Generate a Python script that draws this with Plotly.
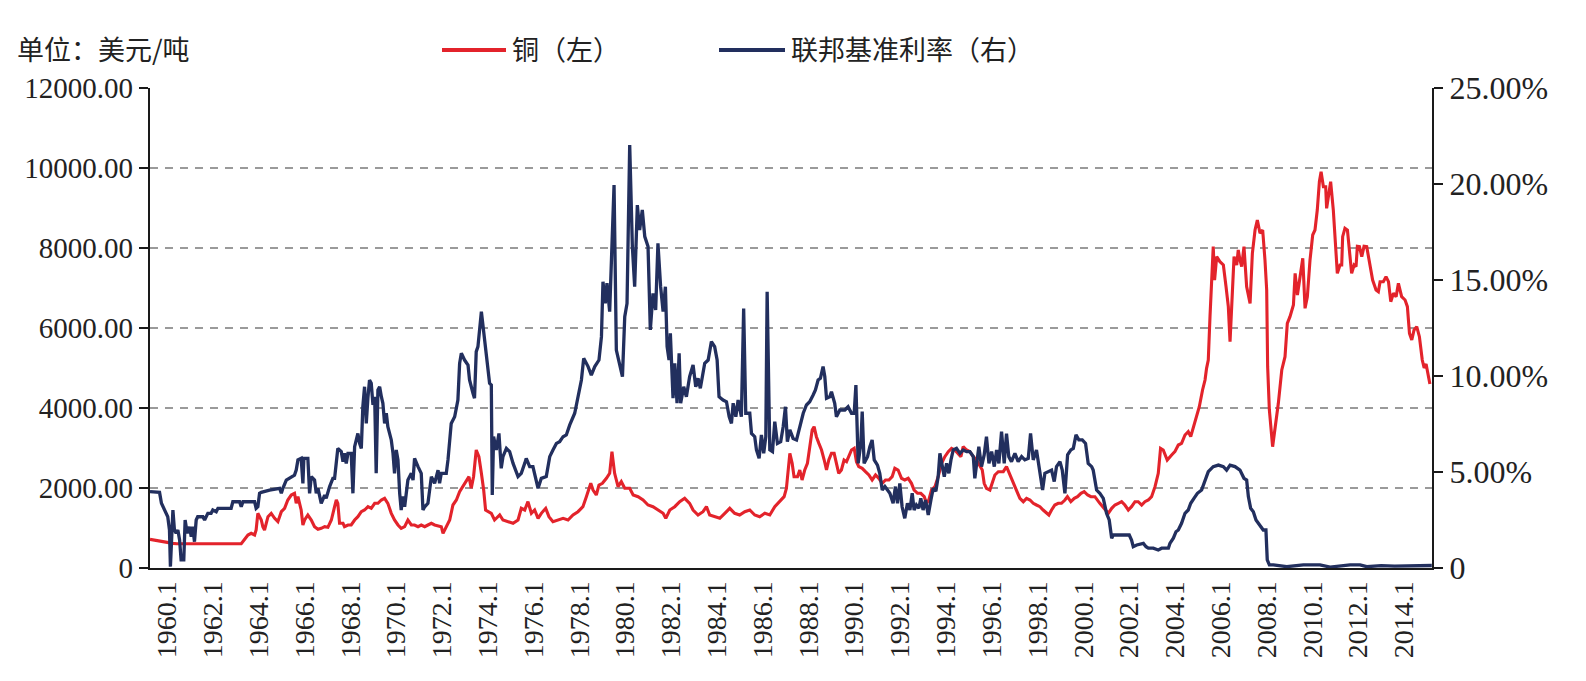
import plotly.graph_objects as go

# ---------------- data (month offset from 1959.4, value) ----------------
cu_month = [0, 4, 8, 12, 14, 47.8, 51.3, 53, 54.8, 55.6, 56.5, 57.4, 58.3, 59.1, 60, 61.8, 63.5, 65.3, 67, 68.8,
            70.5, 72.2, 74, 75.7, 76.6, 77.5, 78.4, 79.2, 80.1, 81, 82.7, 84.5, 86.2, 88, 89.7, 91.5, 93.2, 95,
            96.7, 97.6, 98.4, 99.3, 101.1, 101.9, 103.7, 105.4, 107.2, 108.9, 110.7, 112.4, 114.2, 115.9, 117.7,
            119.4, 121.2, 122.9, 124.6, 126.4, 128.1, 129.9, 131.6, 133.4, 135.1, 136.9, 138.6, 140.4, 142.1,
            143.9, 145.6, 147.4, 149.1, 150.9, 152.6, 153.5, 155.2, 157, 158.7, 160.5,
            162.2, 163.9, 165.7, 167.1, 168.3, 169.5, 170.9, 172.3, 173.6, 174.8, 175.8, 177, 178.8, 180.5, 182.3,
            183.2, 184.9, 187.5, 190.2, 192.8, 194.5, 196.3, 198, 199.8, 201.5, 203.3, 205, 207.3, 209, 211.1,
            213.7, 216.4, 219, 221.6, 224.2, 226.8, 228.6, 230.9, 232.1, 233.8, 235.2, 237, 239.1, 240.8, 242,
            243.4, 245.2, 246.9, 248.7, 251.3, 253.1, 255.7, 258.3, 260.9, 263.5, 266.1, 268.8, 270.2, 272.3,
            274.9, 277.5, 280.1, 282.7, 284.5, 287.1, 289.7, 291.5, 293.2, 295.8, 298.5, 301.1, 303.7, 306.3,
            308.9, 311.6, 314.2, 316.8, 319.4, 322.1, 324.7, 327.3,
            330.4, 332.2, 333.4, 334.3, 335.2, 336.4, 337.4, 339.2, 340.4, 341.6, 343, 344.4, 345.6, 346.9, 347.9,
            349.1, 350.4, 351.8, 353.2, 354.4, 355.6, 357, 358.4, 359.6, 360.8, 362.2, 363.6, 364.9, 366.1, 367.5,
            368.9, 370.1, 371.3, 373.1, 374.8, 376.6, 378.3, 380.1, 381.8, 383.6, 385.3, 387.1, 388.8, 390.2,
            391.9, 393.7, 395.4, 397.2, 398.9, 400.3, 402.1, 403.8, 405.6, 406.8, 408, 409.4, 411.2, 412.9, 414.7,
            416.4, 418.2, 419.9, 421.6, 423.4, 424.8, 426, 427.8, 429.5, 431.3, 433, 434.7, 436, 437, 438.2, 440,
            441.2, 442.6, 444.4, 447, 448.7, 450.5, 452.2, 454, 455.7, 457.5, 459.2, 461, 462.7, 464.4, 466.2,
            467.9, 469.7, 470.9, 472.3, 474, 475.8, 477.5, 479.3, 480.6, 482.4, 484.2, 485.9, 487.7, 489.4, 491.2,
            492.9,
            495, 497.6, 500.3, 502, 503.8, 505.5, 507.3, 509, 510.7, 512.5, 514.2, 516, 517.7, 519.5, 521.2, 523,
            524.7, 526.5, 528.2, 529.4, 530.8, 532.9, 535.2, 536.9, 538.7, 540.4, 542.2, 543.9, 545.2, 546.6,
            548.3, 549.7, 551.4, 552.7, 553.5, 554.4, 555.3, 556.2, 557, 557.7, 558.8, 560.5, 562.3, 563.7, 564.9,
            565.8, 566.7, 567.9, 569.3, 570.1, 571, 571.9, 573.1, 574.5, 576.3, 577.5, 578.9, 580.1, 581.5, 582.9,
            584.1, 585, 585.5, 586.4, 588.1, 589.4, 591.1, 592.9, 594.6, 595.8, 597.2, 599, 599.9, 601.1, 602.1,
            603.9, 605.1, 606.3, 607.7, 609.1, 610.3, 611.5, 612.6, 613.5, 614.7, 615.9, 616.4, 617.3, 618.5,
            619.9, 621.2, 622, 623.4, 624.3, 624.8, 626, 627.3, 628.3, 629.5, 630.8, 631.8, 632.5, 633.6, 634.8,
            636, 637.4, 638.8, 640.5, 642.3, 643.5, 644.4, 646.1, 647.5, 648.8, 650, 651.4, 652.8, 654, 655.7,
            657.5, 658.7, 659.8, 661, 662.2, 663.6, 665, 666.5, 667.5, 668.5, 669.5, 670.5]
cu_price = [717, 680, 640, 615, 605, 610, 825, 867, 825, 950, 1367, 1283, 1200, 1033, 950, 1283, 1367, 1242, 1158,
            1408, 1492, 1700, 1825, 1867, 1617, 1783, 1617, 1450, 1075, 1200, 1325, 1200, 1033, 967, 992, 1033,
            1017, 1200, 1533, 1700, 1617, 1117, 1117, 1033, 1075, 1075, 1200, 1283, 1408, 1450, 1533, 1492, 1617,
            1617, 1700, 1742, 1617, 1367, 1200, 1075, 992, 1033, 1200, 1075, 1075, 1033, 1075, 1033, 1075, 1117,
            1075, 1050, 1033, 867, 1033, 1200, 1575, 1700,
            1908, 2033, 2158, 2283, 1992, 2283, 2950, 2783, 2367, 1950, 1450, 1408, 1367, 1200, 1283, 1325, 1200,
            1158, 1117, 1200, 1492, 1450, 1658, 1367, 1450, 1242, 1367, 1492, 1283, 1158, 1200, 1242, 1200, 1325,
            1408, 1533, 1783, 2117, 1950, 1825, 2075, 2117, 2242, 2367, 2908, 2367, 2033, 2158, 1992, 1992, 1825,
            1783, 1700, 1575, 1533, 1450, 1367, 1242, 1450, 1533, 1658, 1742, 1617, 1450, 1325, 1408, 1533, 1325,
            1283, 1242, 1367, 1492, 1367, 1325, 1408, 1450, 1325, 1283, 1367, 1325, 1533,
            1700, 1783, 1992, 2450, 2867, 2617, 2283, 2283, 2450, 2200, 2450, 2617, 3033, 3450, 3533, 3283, 3117,
            2950, 2700, 2450, 2700, 2867, 2867, 2617, 2367, 2450, 2700, 2658, 2783, 2950, 2992, 2658, 2533, 2492,
            2408, 2325, 2200, 2325, 2242, 2117, 2200, 2200, 2283, 2492, 2450, 2242, 2200, 2242, 2117, 1950, 1867,
            1867, 1783, 1617, 1700, 1950, 2033, 2283, 2617, 2783, 2908, 2992, 2950, 2867, 2783, 3033, 2950, 2908,
            2783, 2700, 2575, 2450, 2117, 1992, 1950, 2117, 2325, 2408, 2408, 2533, 2325, 2117, 1908, 1742, 1658,
            1742, 1700, 1617, 1575, 1533, 1450, 1367, 1325, 1450, 1575, 1617, 1617, 1700, 1783, 1658, 1742, 1783,
            1867, 1908, 1825, 1783,
            1783, 1617, 1450, 1367, 1492, 1575, 1617, 1658, 1575, 1450, 1533, 1658, 1658, 1575, 1658, 1700, 1783,
            2033, 2367, 2992, 2950, 2700, 2825, 2908, 3075, 3117, 3325, 3408, 3283, 3533, 3783, 4033, 4450, 4700,
            4992, 5200, 6283, 7283, 8033, 7200, 7783, 7658, 7575, 7033, 6533, 5658, 6450, 7783, 7575, 7950, 7700,
            7533, 8033, 7033, 6617, 7867, 8450, 8700, 8367, 8450, 7700, 6950, 5033, 3950, 3033, 3450, 4117, 4950,
            5283, 6117, 6283, 6575, 7367, 6825, 7117, 7742, 6492, 6783, 7700, 8325, 8450, 8950, 9658, 9908, 9533,
            9533, 8992, 9283, 9658, 8950, 7950, 7367, 7575, 7575, 8283, 8492, 8450, 8033, 7367, 7575, 7533, 8042,
            8033, 7783, 8042, 8033, 7617, 7200, 6950, 6908, 7158, 7158, 7283, 7158, 6658, 6867, 6783, 7117, 6783,
            6700, 6533, 5867, 5700, 5950, 6033, 5783, 5200, 5000, 5100, 4800, 4600]

ff_month = [0, 5, 6, 7.6, 9.3, 10.2, 10.7, 12, 12.8, 13.7, 14.6, 15.5, 16.3, 17.7, 18.4, 19.5, 20.7, 21.6, 22.4,
            23.3, 24.2, 25, 27.7, 28.6, 30.3, 32, 32.9, 34.7, 35.6, 42.5, 43.4, 46.9, 47.8, 48.7, 54.8, 55.6, 56.5,
            57.4, 58.3, 62.6, 67.9, 68.8, 69.6, 71.4, 74, 75.7, 76.6, 77.5, 79.2, 80.1, 80.6, 82.7, 83.6, 84.5,
            86.2, 87.1, 88, 89.7, 91.5, 92.3, 94.1, 95.8, 96.7, 98.4, 100.2, 101.1, 101.9, 102.8, 103.7, 105.4,
            106.3, 107.2, 108.9, 109.8, 110.7, 111.5, 112.4, 113.3, 114.2, 115, 115.9, 116.8, 117.7, 118.5, 119.4,
            120.3, 121.2, 122, 122.9, 123.8, 124.6, 126.4, 127.3, 128.1, 129, 129.9, 130.8, 131.6, 132.5, 133.4,
            135.1, 136.9, 137.8, 138.6, 140.4, 142.1, 143, 143.9, 145.6, 147.4, 149.1, 150, 150.9, 151.7, 152.6,
            155.2, 156.1, 157.8, 159.6, 161.3,
            162.2, 163.1, 164.8, 166.6, 167.4, 169.2, 170, 170.9, 171.8, 173.6, 174.8, 176.2, 177.9, 178.8, 179.3,
            180, 181.4, 182.8, 184, 184.9, 186.7, 188.4, 190.2, 192.8, 194.5, 196.3, 197.1, 198.9, 200.6, 203.3,
            205, 207.6, 209.4, 211.1, 212.9, 214.6, 216.4, 218.1, 219.9, 222.5, 224.2, 226, 227.2, 229.5, 231.2,
            233, 235.2, 236.5, 237.3, 238.5, 239.4, 240.8, 243.1, 244.3, 247.5, 248.7, 249.9, 251.3, 252.7, 253.9,
            255.3, 256.5, 257.9, 259.2, 260.9, 262.1, 263.5, 264.9, 266.1, 267.5, 268.8, 270, 270.9, 271.9, 272.6,
            274, 274.9, 276.1, 277.2, 278, 279.6, 281, 282.7, 284.5, 285.9, 287.1, 288.3, 290.6, 292.4, 294.1,
            295.8, 297.1, 298.1, 300.2, 302, 303.4, 304.6, 305.5, 306.9, 308.1, 309.8, 311, 312.1, 314.2, 315.1,
            316.8, 317.7, 319.1, 320.3, 321.5, 322.6, 323.3, 324.7, 326.1, 327.3,
            328.7, 330.4, 331.7, 332.9, 333.9, 335.2, 336.9, 338.7, 340.4, 342.2, 343.9, 345.6, 347.4, 348.6, 350,
            351.2, 352.6, 353.5, 354.4, 356.1, 357, 358.7, 359.6, 361.4, 364, 365.7, 367.5, 368.9, 369.8, 371,
            372.4, 373.1, 374.1, 375.9, 377.1, 378.3, 379.4, 381.1, 382.3, 383.6, 385, 386.3, 387.6, 389.3, 390.5,
            391.6, 392.8, 394, 395.4, 396.8, 398.1, 399.3, 400.3, 401.5, 402.8, 403.8, 405, 406.3, 407.7, 409.1,
            410.3, 411.7, 412.9, 413.8, 414.7, 416.1, 417.3, 418.5, 419.6, 420.8, 422.5, 424.3, 426, 427.8, 429.5,
            431.3, 432.1, 433, 434.2, 435.6, 437, 438.2, 439.5, 440.9, 442.3, 443.5, 444.7, 446.1, 447.5, 448.7,
            449.9, 451.3, 453.1, 454.8, 456.6, 458.3, 460.1, 461.3, 462.7, 464.4, 466.2, 467.6, 468.8, 470.6,
            472.3, 473.7, 474.9, 476.7, 477.9, 479.3, 480.7, 482.4, 483.7, 485.1, 486.6, 488.4, 490.1, 491.5,
            493.3,
            494.1, 495.9, 497.6, 499.4, 501.1, 502.5, 503.8, 504.6, 508.1, 513, 514.2, 515.1, 516.9, 520.4, 521.8,
            523, 525.6, 528.2, 530, 533.5, 534.3, 536.1, 537.5, 538.7, 540.4, 542.2, 543.9, 545.2, 546.9, 548.7,
            550.9, 552.7, 554.4, 557, 559.7, 562.3, 564, 565.8, 568.4, 571, 573.1, 574.5, 575.4, 576.6, 578, 579.4,
            580.6, 581.8, 583.2, 584.6, 585.3, 586.4, 588.5, 595.5, 604.2, 612.9, 618.2, 628.7, 633.9, 637.4, 645,
            652, 660, 666, 671.5]
ff_rate = [3.98, 3.94, 3.37, 3.02, 2.67, 1.98, 0.07, 3.02, 1.98, 1.81, 1.98, 1.46, 0.42, 0.42, 2.5, 1.81, 2.15,
           1.63, 2.15, 1.37, 2.5, 2.67, 2.67, 2.5, 2.85, 2.85, 3.02, 2.93, 3.11, 3.11, 3.45, 3.45, 3.19, 3.45, 3.45,
           3.11, 3.19, 3.89, 3.94, 4.06, 4.15, 3.89, 4.15, 4.58, 4.72, 4.84, 5.1, 5.63, 5.71, 4.41, 5.71, 5.71,
           3.89, 4.76, 4.58, 3.89, 4.15, 3.37, 3.8, 3.63, 4.24, 4.67, 4.67, 6.23, 6.06, 5.54, 5.97, 5.45, 5.97,
           5.97, 3.89, 6.32, 7.01, 6.49, 6.23, 8.4, 9.44, 7.53, 8.92, 9.79, 9.62, 8.49, 8.92, 4.93, 9.27, 9.44,
           8.92, 8.58, 7.53, 8.06, 7.36, 6.67, 5.97, 4.93, 6.15, 5.63, 3.89, 3.02, 3.72, 3.19, 4.58, 4.93, 4.58,
           5.71, 5.28, 4.93, 3.02, 3.19, 3.37, 4.76, 4.41, 4.76, 5.1, 4.41, 4.93, 4.93, 5.63, 7.53, 7.88, 8.75,
           10.66, 11.18, 10.83, 10.57, 9.79, 9.1, 8.84, 11.27, 11.53, 13.35, 12.22, 11.18, 9.62, 9.53, 3.8, 6.84,
           6.15, 7.01, 5.19, 5.8, 6.23, 6.06, 5.45, 4.76, 4.93, 5.45, 5.71, 5.28, 5.28, 4.15, 4.67, 4.76, 5.8,
           6.15, 6.49, 6.58, 6.84, 6.93, 7.45, 8.06, 8.92, 9.79, 10.92, 10.49, 10.05, 10.49, 10.83, 12.05, 14.91,
           13.78, 14.83, 13.35, 19.95, 11.35, 9.97, 13.09, 13.78, 22.03, 16.74, 14.65, 18.9, 17.6, 18.65, 17.26,
           16.74, 12.4, 14.3, 13.44, 16.91, 14.65, 13.35, 14.65, 11.53, 10.83, 12.22, 8.84, 10.66, 8.58, 11.18,
           8.58, 9.44, 8.92, 9.97, 10.57, 9.44, 9.88, 9.36, 10.66, 10.83, 11.79, 11.53, 10.83, 8.92, 8.75, 8.66,
           7.88, 7.53, 8.58, 7.88, 8.75, 7.88, 13.52, 8.06, 8.06, 7.01, 6.84, 6.15, 5.71, 6.93, 5.97, 6.84, 14.39,
           6.15, 6.06, 7.62,
           6.49, 6.58, 7.36, 8.4, 6.58, 7.19, 6.75, 6.67, 7.27, 8.06, 8.49, 8.66, 9.01, 9.27, 9.79, 9.88, 10.49,
           9.97, 8.84, 8.92, 9.18, 8.58, 7.88, 8.23, 8.23, 8.4, 8.06, 8.06, 9.53, 5.45, 6.49, 8.15, 5.45, 5.8, 6.32,
           6.67, 5.63, 5.36, 4.93, 4.06, 4.24, 4.06, 3.89, 3.37, 4.24, 3.37, 4.41, 3.19, 2.59, 3.37, 3.02, 3.89,
           3.02, 3.28, 3.11, 3.63, 3.02, 3.54, 2.76, 3.54, 4.15, 4.0, 4.76, 5.97, 5.45, 4.76, 5.45, 4.93, 5.63,
           6.15, 6.23, 5.97, 6.15, 6.06, 6.06, 5.8, 4.67, 5.45, 6.32, 5.28, 5.89, 6.84, 5.45, 6.06, 5.28, 6.15,
           5.45, 7.1, 5.45, 7.0, 5.8, 5.54, 5.97, 5.54, 5.8, 5.63, 5.71, 7.01, 5.63, 6.15, 5.1, 4.06, 4.93, 5.02,
           5.1, 4.5, 5.28, 5.54, 5.1, 3.89, 5.89, 6.15, 6.23, 6.93, 6.67, 6.67, 6.49, 5.45, 5.28,
           5.1, 4.06, 3.89, 3.63, 2.85, 2.5, 1.55, 1.72, 1.72, 1.72, 1.46, 1.11, 1.2, 1.28, 1.11, 1.03, 1.03, 0.94,
           1.03, 1.03, 1.28, 1.55, 1.89, 1.98, 2.33, 2.85, 3.02, 3.37, 3.63, 3.89, 4.06, 4.58, 5.02, 5.28, 5.36,
           5.28, 5.1, 5.36, 5.28, 5.1, 4.67, 4.58, 3.72, 3.11, 2.93, 2.5, 2.33, 2.15, 1.98, 1.98, 0.42, 0.16, 0.16,
           0.07, 0.16, 0.16, 0.05, 0.16, 0.16, 0.07, 0.12, 0.1, 0.1, 0.12, 0.13]

tick_months = [9, 33, 57, 81, 105, 129, 153, 177, 201, 225, 249, 273, 297, 321, 345, 369, 393, 417, 441, 465,
               489, 513, 537, 561, 585, 609, 633, 657]
tick_labels = ["1960.1", "1962.1", "1964.1", "1966.1", "1968.1", "1970.1", "1972.1", "1974.1", "1976.1",
               "1978.1", "1980.1", "1982.1", "1984.1", "1986.1", "1988.1", "1990.1", "1992.1", "1994.1",
               "1996.1", "1998.1", "2000.1", "2002.1", "2004.1", "2006.1", "2008.1", "2010.1", "2012.1", "2014.1"]
left_ticks = [0, 2000, 4000, 6000, 8000, 10000, 12000]
left_labels = ["0", "2000.00", "4000.00", "6000.00", "8000.00", "10000.00", "12000.00"]
right_ticks = [0, 5, 10, 15, 20, 25]
right_labels = ["0", "5.00%", "10.00%", "15.00%", "20.00%", "25.00%"]

unit_text = "单位：美元/吨"
name_cu = "铜（左）"
name_ff = "联邦基准利率（右）"

# ---------------- style ----------------
W, H = 1586, 681
L, R, T, B = 150, 154, 88, 113
RED = "#e3232b"
NAVY = "#222f5e"
SERIF = "Liberation Serif, Times New Roman, serif"
CJK = "Noto Sans CJK SC, sans-serif"

pw = W - L - R
ph = H - T - B


def px(x):
    return (x - L) / pw


def py(y):
    return (H - B - y) / ph


fig = go.Figure()
fig.add_trace(go.Scatter(x=cu_month, y=cu_price, mode="lines", name=name_cu,
                         line=dict(color=RED, width=3.1), showlegend=False))
fig.add_trace(go.Scatter(x=ff_month, y=ff_rate, mode="lines", name=name_ff, yaxis="y2",
                         line=dict(color=NAVY, width=3.3), showlegend=False))

fig.update_layout(
    width=W, height=H,
    margin=dict(l=L, r=R, t=T, b=B, pad=0),
    paper_bgcolor="white", plot_bgcolor="white",
    xaxis=dict(range=[0, 671.6], tickmode="array", tickvals=tick_months, ticktext=tick_labels,
               tickangle=-90, showgrid=False, zeroline=False, showline=True, linecolor="#1a1a1a",
               linewidth=2.2, ticks="", tickfont=dict(family=SERIF, size=28, color="#222")),
    yaxis=dict(range=[0, 12000], tickmode="array", tickvals=left_ticks, ticktext=left_labels,
               showgrid=True, gridcolor="#9a9a9a", gridwidth=1.6, griddash="8px,7px",
               zeroline=False, showline=True, linecolor="#1a1a1a", linewidth=2.2,
               ticks="outside", ticklen=9, tickwidth=2, tickcolor="#1a1a1a",
               tickfont=dict(family=SERIF, size=29, color="#222")),
    yaxis2=dict(range=[0, 25], overlaying="y", side="right", tickmode="array", tickvals=right_ticks,
                ticktext=right_labels, showgrid=False, zeroline=False, showline=True,
                linecolor="#1a1a1a", linewidth=2.2, ticks="outside", ticklen=9, tickwidth=2,
                tickcolor="#1a1a1a", tickfont=dict(family=SERIF, size=32, color="#222")),
    showlegend=False,
)

# header text and legend look-alike
fig.add_annotation(x=px(15), y=py(48), xref="paper", yref="paper", text=unit_text, showarrow=False,
                   xanchor="left", yanchor="middle", font=dict(family=CJK, size=27, color="#222"))
fig.add_shape(type="line", xref="paper", yref="paper", x0=px(442), x1=px(506), y0=py(50), y1=py(50),
              line=dict(color=RED, width=4))
fig.add_annotation(x=px(510), y=py(48), xref="paper", yref="paper", text=name_cu, showarrow=False,
                   xanchor="left", yanchor="middle", font=dict(family=CJK, size=27, color="#222"))
fig.add_shape(type="line", xref="paper", yref="paper", x0=px(719), x1=px(785), y0=py(50), y1=py(50),
              line=dict(color=NAVY, width=4))
fig.add_annotation(x=px(789), y=py(48), xref="paper", yref="paper", text=name_ff, showarrow=False,
                   xanchor="left", yanchor="middle", font=dict(family=CJK, size=27, color="#222"))

fig.write_html("out.html")
